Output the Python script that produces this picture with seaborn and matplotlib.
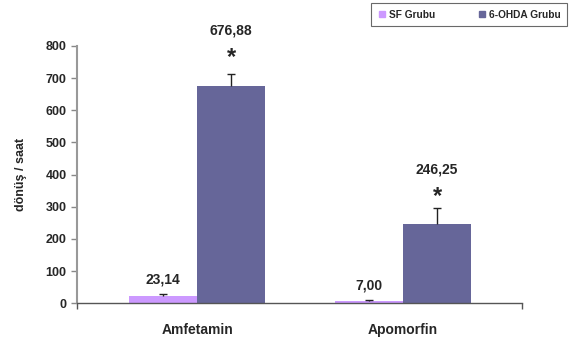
import matplotlib
matplotlib.use("Agg")
import matplotlib.pyplot as plt
from matplotlib.lines import Line2D
import seaborn as sns
import pandas as pd

categories = ["Amfetamin", "Apomorfin"]
groups = ["SF Grubu", "6-OHDA Grubu"]
sf_values = [23.14, 7.00]
ohda_values = [676.88, 246.25]
sf_err = [5, 3]
ohda_err = [36, 51]
sf_sig = ["", ""]
ohda_sig = ["*", "*"]
yticks = [0, 100, 200, 300, 400, 500, 600, 700, 800]
colors = ["#CC99FF", "#666699"]

sns.set_style("white")
plt.rcParams['font.family'] = ['Liberation Sans', 'DejaVu Sans']
plt.rcParams['font.weight'] = 'bold'

df = pd.DataFrame({
    "cat": categories * 2,
    "group": [groups[0]] * 2 + [groups[1]] * 2,
    "val": sf_values + ohda_values,
    "err": sf_err + ohda_err,
    "sig": sf_sig + ohda_sig,
})

fig = plt.figure(figsize=(5.70, 3.38), dpi=100)
ax = fig.add_axes([0.135, 0.1027, 0.781, 0.7613])
sns.barplot(data=df, x="cat", y="val", hue="group", hue_order=groups,
            order=categories, palette=colors, width=0.66, saturation=1,
            errorbar=None, legend=False, ax=ax, edgecolor="none")

bars = list(ax.patches)[:4]
for i, p in enumerate(bars):
    row = df.iloc[i]
    xc = p.get_x() + p.get_width() / 2
    h = p.get_height()
    _, caps, _ = ax.errorbar([xc], [h], yerr=[[0], [row["err"]]], fmt="none",
                             ecolor="#222222", elinewidth=1.0, capsize=3, capthick=1.0,
                             zorder=1)
    if len(caps) == 2:
        caps[0].set_visible(False)
    label = f"{row['val']:.2f}".replace(".", ",")
    if row["sig"]:
        ax.annotate(label, (xc, h), xytext=(0, 55), textcoords="offset pixels",
                    ha="center", va="center", fontsize=10, fontweight="bold")
        ax.annotate(row["sig"], (xc, h), xytext=(0, 28), textcoords="offset pixels",
                    ha="center", va="center", fontsize=17, fontweight="bold")
    else:
        ax.annotate(label, (xc, h), xytext=(0, 16), textcoords="offset pixels",
                    ha="center", va="center", fontsize=10, fontweight="bold")

ax.set_xlim(-0.583, 1.578)
ax.set_ylim(0, 800)
ax.set_yticks(yticks)
ax.set_yticklabels([str(t) for t in yticks], fontsize=9, fontweight="bold")
ax.set_xticks([0, 1])
ax.set_xticklabels(categories, fontsize=10, fontweight="bold")
ax.tick_params(axis="x", length=0, pad=14)
ax.tick_params(axis="y", length=4, width=1, color="#888888", direction="out", left=True)
ax.set_xticks([-0.583, 1.578], minor=True)
ax.tick_params(axis="x", which="minor", length=4, width=1, color="#555555", bottom=True, direction="out")
ax.set_ylabel("dönüş / saat", fontsize=9, fontweight="bold", labelpad=13)
ax.set_xlabel("")
for s in ["top", "right"]:
    ax.spines[s].set_visible(False)
ax.spines["left"].set_color("#999999")
ax.spines["left"].set_linewidth(1.5)
ax.spines["bottom"].set_color("#555555")
ax.spines["bottom"].set_linewidth(1.0)

handles = [Line2D([0], [0], marker="s", linestyle="none", markersize=5,
                  markerfacecolor=c, markeredgecolor=c) for c in colors]
leg = fig.legend(handles, groups, loc="upper right", bbox_to_anchor=(1.004, 1.006),
                 ncol=2, frameon=True, fancybox=False, prop={"size": 7.3, "weight": "bold"},
                 handletextpad=0.3, columnspacing=4.2, borderpad=0.65, handlelength=0.8)
leg.get_frame().set_edgecolor("#444444")
leg.get_frame().set_linewidth(0.8)

fig.savefig("out.png", dpi=100)
